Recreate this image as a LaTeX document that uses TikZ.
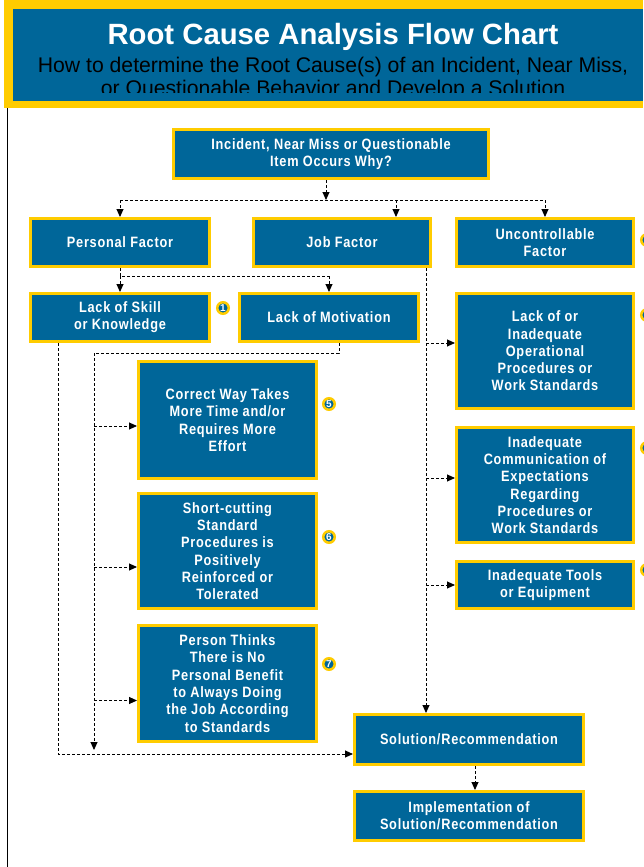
\documentclass[tikz,border=0pt]{standalone}
\usepackage{fontspec}
\setmainfont{Liberation Sans}
\newfontfamily\boxfont{Liberation Sans}[FakeStretch=0.85,LetterSpace=5]
\usepackage{xcolor}
\usetikzlibrary{arrows.meta,positioning}
\definecolor{rcablue}{HTML}{006699}
\definecolor{rcayellow}{HTML}{FFCC00}

\begin{document}
\begin{tikzpicture}[x=1pt,y=-1pt,
  box/.style={rectangle,draw=rcayellow,line width=3pt,fill=rcablue,text=white,align=center,
    font=\boxfont\bfseries\fontsize{15}{17.3}\selectfont,inner sep=2pt},
  badge/.style={circle,draw=rcayellow,line width=2.5pt,fill=rcablue,text=white,inner sep=0pt,
    minimum size=11.5pt,font=\bfseries\fontsize{10}{10}\selectfont},
  dline/.style={line width=0.9pt,dash pattern=on 3pt off 2pt},
  arr/.style={dline,-{Triangle[length=8pt,width=7pt]}}]
\useasboundingbox (0,0) rectangle (643,867);

% Header banner
\fill[rcayellow] (4,0) rectangle (643,108);
\fill[rcablue] (13,9) rectangle (643,101);
\node[anchor=base,text=white,font=\bfseries\fontsize{29.3}{30}\selectfont] (title) at (333,45) {Root Cause Analysis Flow Chart};
\begin{scope}
\clip (13,9) rectangle (643,92);
\node[anchor=base,font=\fontsize{21.2}{22}\selectfont] (sub1) at (333,73) {How to determine the Root Cause(s) of an Incident, Near Miss,};
\node[anchor=base,font=\fontsize{21.2}{22}\selectfont] (sub2) at (333,95) {or Questionable Behavior and Develop a Solution};
\end{scope}
\draw[line width=1.5pt] (7.5,108) -- (7.5,867);

% Boxes
\node[box,minimum width=315pt,minimum height=49pt] (incident) at (331,154) {Incident, Near Miss or Questionable\\Item Occurs Why?};
\node[box,minimum width=179pt,minimum height=48pt] (personal) at (120,242.5) {Personal Factor};
\node[box,minimum width=177pt,minimum height=48pt] (job) at (342,242.5) {Job Factor};
\node[box,minimum width=177pt,minimum height=48pt] (uncontrol) at (545,242.5) {Uncontrollable\\Factor};
\node[box,minimum width=179pt,minimum height=48pt] (skill) at (120,317.5) {Lack of Skill\\or Knowledge};
\node[box,minimum width=179pt,minimum height=48pt] (motiv) at (329,317.5) {Lack of Motivation};
\node[box,minimum width=177pt,minimum height=115pt] (operational) at (545,351) {Lack of or\\Inadequate\\Operational\\Procedures or\\Work Standards};
\node[box,minimum width=177pt,minimum height=115pt] (communication) at (545,485) {Inadequate\\Communication of\\Expectations\\Regarding\\Procedures or\\Work Standards};
\node[box,minimum width=177pt,minimum height=47pt] (tools) at (545,585) {Inadequate Tools\\or Equipment};
\node[box,minimum width=178pt,minimum height=117pt] (correct) at (227.5,420) {Correct Way Takes\\More Time and/or\\Requires More\\Effort};
\node[box,minimum width=178pt,minimum height=115pt] (shortcut) at (227.5,551) {Short-cutting\\Standard\\Procedures is\\Positively\\Reinforced or\\Tolerated};
\node[box,minimum width=178pt,minimum height=116pt] (thinks) at (227.5,683.5) {Person Thinks\\There is No\\Personal Benefit\\to Always Doing\\the Job According\\to Standards};
\node[box,minimum width=229pt,minimum height=50pt] (solution) at (469,739.5) {Solution/Recommendation};
\node[box,minimum width=229pt,minimum height=49pt] (implement) at (469,816) {Implementation of\\Solution/Recommendation};

% Numbered markers
\node[badge] (b1) at (223,308) {1};
\node[badge] (b5) at (329,404) {5};
\node[badge] (b6) at (329,537) {6};
\node[badge] (b7) at (329,664) {7};
\node[badge] (b2) at (647,240) {};
\node[badge] (b3) at (647,315) {};
\node[badge] (b4) at (647,448) {};
\node[badge] (b8) at (647,570) {};

% Incident -> three factors
\coordinate (split1) at (326,200);
\coordinate (jt) at (396,200);
\draw[arr] (split1 |- incident.south) -- (split1);
\draw[dline] (personal.north |- split1) -- (uncontrol.north |- split1);
\draw[arr] (personal.north |- split1) -- (personal.north);
\draw[arr] (jt) -- (jt |- job.north);
\draw[arr] (uncontrol.north |- split1) -- (uncontrol.north);

% Personal factor -> skill / motivation
\coordinate (split2) at (120,276);
\draw[dline] (personal.south) -- (split2) -- (motiv.north |- split2);
\draw[arr] (split2) -- (skill.north);
\draw[arr] (motiv.north |- split2) -- (motiv.north);

% Job factor branch
\coordinate (jr) at ([xshift=-6pt]job.south east);
\draw[arr] (jr) -- (jr |- solution.north);
\draw[arr] ([yshift=8pt]operational.west -| jr) -- ([yshift=8pt]operational.west);
\draw[arr] ([yshift=7pt]communication.west -| jr) -- ([yshift=7pt]communication.west);
\draw[arr] (tools.west -| jr) -- (tools.west);

% Motivation branch
\coordinate (mv1) at (94,353);
\coordinate (mv2) at (94,750);
\draw[dline] ([xshift=10pt]motiv.south) |- (mv1);
\draw[arr] (mv1) -- (mv2);
\draw[arr] ([yshift=-6pt]correct.west -| mv1) -- ([yshift=-6pt]correct.west);
\draw[arr] ([yshift=-16pt]shortcut.west -| mv1) -- ([yshift=-16pt]shortcut.west);
\draw[arr] ([yshift=-17pt]thinks.west -| mv1) -- ([yshift=-17pt]thinks.west);

% Skill branch and solution
\draw[arr] ([xshift=-62pt]skill.south) |- ([yshift=-14.5pt]solution.west);
\draw[arr] ([xshift=6pt]solution.south) -- ([xshift=6pt]implement.north);
\end{tikzpicture}
\end{document}
